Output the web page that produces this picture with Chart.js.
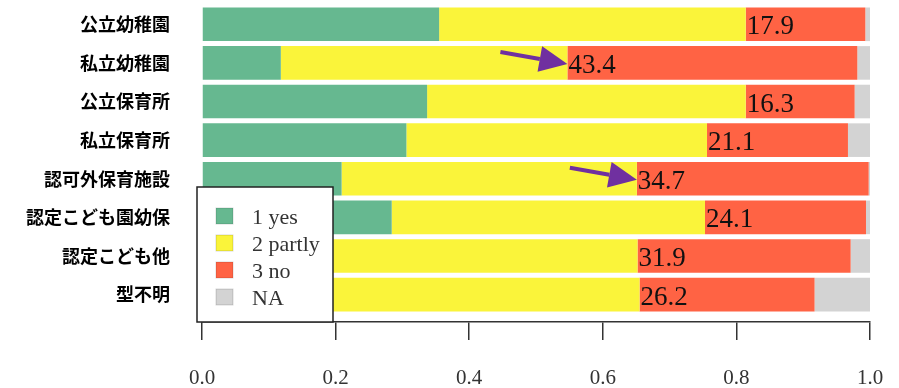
<!DOCTYPE html>
<html>
<head>
<meta charset="utf-8">
<script src="https://cdn.jsdelivr.net/npm/chart.js@4"></script>
<style>
  html, body { margin: 0; padding: 0; background: #fff; }
  #wrap { width: 899px; height: 388px; position: relative; }
</style>
</head>
<body>
<div id="wrap"><canvas id="chart"></canvas></div>
<script>
// categories (top to bottom)
const categories = ['公立幼稚園', '私立幼稚園', '公立保育所', '私立保育所', '認可外保育施設', '認定こども園幼保', '認定こども他', '型不明'];

// shares in percent
const yesPct    = [35.5, 11.8, 33.7, 30.6, 20.9, 28.4, 17.0, 14.0];
const partlyPct = [45.9, 42.9, 47.7, 45.0, 44.2, 46.9, 48.2, 51.5];
const noPct     = [17.9, 43.4, 16.3, 21.1, 34.7, 24.1, 31.9, 26.2];
const naPct     = [0.7, 1.9, 2.3, 3.3, 0.2, 0.6, 2.9, 8.3];

const seriesLabels = ['1 yes', '2 partly', '3 no', 'NA'];
const seriesColors = ['#66b890', '#faf43a', '#ff6344', '#d3d3d3'];

const xTicks = [0, 0.2, 0.4, 0.6, 0.8, 1.0];

// rows that get an arrow
const arrowRows = [1, 4];

const toPoints = (arr) => arr.map((v, i) => ({ x: v / 100, y: i }));

// value labels at the start of the "no" segment
const noLabels = {
  id: 'noLabels',
  afterDatasetsDraw(chart) {
    const ctx = chart.ctx;
    const meta = chart.getDatasetMeta(2);
    ctx.save();
    ctx.font = '27px "Liberation Serif", "DejaVu Serif", serif';
    ctx.fillStyle = '#111';
    ctx.textAlign = 'left';
    ctx.textBaseline = 'alphabetic';
    meta.data.forEach((bar, i) => {
      ctx.fillText(noPct[i].toFixed(1), bar.base + 1, bar.y + 10);
    });
    ctx.restore();
  }
};

// purple arrows pointing at the "no" label
const arrows = {
  id: 'arrows',
  afterDatasetsDraw(chart) {
    const ctx = chart.ctx;
    const meta = chart.getDatasetMeta(2);
    ctx.save();
    ctx.strokeStyle = '#7030a0';
    ctx.fillStyle = '#7030a0';
    ctx.lineWidth = 4;
    arrowRows.forEach((row) => {
      const bar = meta.data[row];
      const tx = bar.base, ty = bar.y + 1;
      const sx = tx - 67, sy = ty - 12;
      const ang = Math.atan2(ty - sy, tx - sx);
      const hl = 28, hw = 13;
      const bx = tx - hl * Math.cos(ang), by = ty - hl * Math.sin(ang);
      ctx.beginPath();
      ctx.moveTo(sx, sy);
      ctx.lineTo(bx, by);
      ctx.stroke();
      ctx.beginPath();
      ctx.moveTo(tx, ty);
      ctx.lineTo(bx + hw * Math.sin(ang), by - hw * Math.cos(ang));
      ctx.lineTo(bx - hw * Math.sin(ang), by + hw * Math.cos(ang));
      ctx.closePath();
      ctx.fill();
    });
    ctx.restore();
  }
};

// boxed legend sitting over the lower left of the plot
const boxLegend = {
  id: 'boxLegend',
  afterDraw(chart) {
    const ctx = chart.ctx;
    const area = chart.chartArea;
    const left = area.left - 5, top = area.bottom - 135;
    ctx.save();
    ctx.fillStyle = '#fff';
    ctx.fillRect(left, top, 136, 135);
    ctx.strokeStyle = '#222';
    ctx.lineWidth = 1.5;
    ctx.strokeRect(left, top, 136, 135);
    ctx.font = '22px "Liberation Serif", "DejaVu Serif", serif';
    ctx.textBaseline = 'alphabetic';
    chart.data.datasets.forEach((ds, i) => {
      const cy = top + 29 + i * 27;
      ctx.fillStyle = ds.backgroundColor;
      ctx.fillRect(left + 19, cy - 8, 17, 16);
      ctx.strokeStyle = 'rgba(0,0,0,0.15)';
      ctx.lineWidth = 1;
      ctx.strokeRect(left + 19, cy - 8, 17, 16);
      ctx.fillStyle = '#333';
      ctx.fillText(ds.label, left + 55, cy + 8);
    });
    ctx.restore();
  }
};

const allPct = [yesPct, partlyPct, noPct, naPct];

new Chart(document.getElementById('chart'), {
  type: 'bar',
  data: {
    datasets: allPct.map((arr, i) => ({
      label: seriesLabels[i],
      data: toPoints(arr),
      backgroundColor: seriesColors[i],
      borderWidth: 0,
      barPercentage: 0.87,
      categoryPercentage: 1.0
    }))
  },
  options: {
    indexAxis: 'y',
    responsive: true,
    maintainAspectRatio: false,
    animation: false,
    layout: { padding: { top: 5, right: 29, left: 0, bottom: 0 } },
    plugins: {
      legend: { display: false },
      tooltip: { enabled: false }
    },
    scales: {
      x: {
        type: 'linear',
        stacked: true,
        min: 0,
        max: 1,
        afterBuildTicks: (scale) => { scale.ticks = xTicks.map(v => ({ value: v })); },
        afterFit: (scale) => { scale.height = 66; scale.paddingLeft = 0; scale.paddingRight = 0; },
        border: { display: true, color: '#333', width: 1.5 },
        grid: { drawOnChartArea: false, drawTicks: true, tickLength: 18, color: '#333', lineWidth: 1.5 },
        ticks: {
          padding: 26,
          color: '#333',
          font: { family: '"Liberation Serif", "DejaVu Serif", serif', size: 21 },
          callback: (v) => Number(v).toFixed(1)
        }
      },
      y: {
        type: 'linear',
        stacked: true,
        reverse: true,
        offset: false,
        min: -0.5,
        max: 7.71,
        afterBuildTicks: (scale) => { scale.ticks = categories.map((c, i) => ({ value: i })); },
        afterFit: (scale) => { scale.width = 202; scale.paddingTop = 0; scale.paddingBottom = 0; },
        border: { display: false },
        grid: { display: false, drawTicks: false, offset: false },
        ticks: {
          padding: 32,
          color: '#000',
          font: { family: '"Noto Sans CJK JP", sans-serif', size: 18, weight: 'bold' },
          callback: (v) => categories[v]
        }
      }
    }
  },
  plugins: [noLabels, arrows, boxLegend]
});
</script>
</body>
</html>
